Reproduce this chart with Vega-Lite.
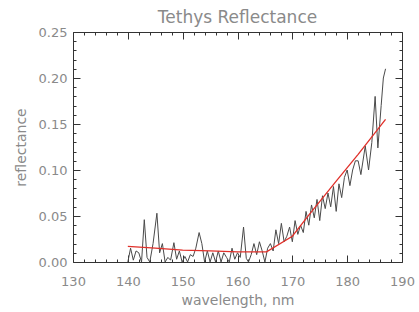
{
  "$schema": "https://vega.github.io/schema/vega-lite/v6.json",
  "width": 329,
  "height": 230,
  "autosize": {"type": "none"},
  "padding": {"left": 73, "top": 32, "right": 17, "bottom": 50},
  "background": "white",
  "title": {"text": "Tethys Reflectance", "fontSize": 17, "font": "DejaVu Sans", "fontWeight": "normal", "color": "#8a8a8a", "offset": -1},
  "config": {
    "view": {"stroke": "#333333", "strokeWidth": 1},
    "axis": {"domain": false, "tickColor": "#333333", "labelColor": "#8a8a8a", "titleColor": "#8a8a8a", "labelFont": "DejaVu Sans", "titleFont": "DejaVu Sans", "labelFontSize": 13, "titleFontSize": 14, "titleFontWeight": "normal", "grid": false, "offset": -7, "tickSize": 7}
  },
  "datasets": {
    "obs": [
      {"wl": 140.0, "r": 0.000}, {"wl": 140.5, "r": 0.015}, {"wl": 141.0, "r": 0.002}, {"wl": 141.5, "r": 0.012},
      {"wl": 142.0, "r": 0.010}, {"wl": 142.5, "r": 0.000}, {"wl": 143.0, "r": 0.046}, {"wl": 143.5, "r": 0.005},
      {"wl": 144.0, "r": 0.000}, {"wl": 144.6, "r": 0.020}, {"wl": 145.3, "r": 0.053}, {"wl": 145.8, "r": 0.010},
      {"wl": 146.3, "r": 0.020}, {"wl": 146.8, "r": 0.000}, {"wl": 147.3, "r": 0.005}, {"wl": 147.8, "r": 0.002},
      {"wl": 148.4, "r": 0.021}, {"wl": 148.9, "r": 0.003}, {"wl": 149.4, "r": 0.012}, {"wl": 149.9, "r": 0.000},
      {"wl": 150.4, "r": 0.006}, {"wl": 150.9, "r": 0.000}, {"wl": 151.4, "r": 0.008}, {"wl": 151.9, "r": 0.006},
      {"wl": 152.4, "r": 0.015}, {"wl": 153.0, "r": 0.032}, {"wl": 153.5, "r": 0.020}, {"wl": 154.0, "r": 0.000},
      {"wl": 154.5, "r": 0.012}, {"wl": 155.0, "r": 0.000}, {"wl": 155.5, "r": 0.010}, {"wl": 156.0, "r": 0.000},
      {"wl": 156.5, "r": 0.012}, {"wl": 157.0, "r": 0.000}, {"wl": 157.5, "r": 0.010}, {"wl": 158.0, "r": 0.005},
      {"wl": 158.5, "r": 0.000}, {"wl": 159.0, "r": 0.015}, {"wl": 159.5, "r": 0.003}, {"wl": 160.0, "r": 0.010},
      {"wl": 160.5, "r": 0.005}, {"wl": 161.1, "r": 0.038}, {"wl": 161.6, "r": 0.004}, {"wl": 162.0, "r": 0.000},
      {"wl": 162.5, "r": 0.008}, {"wl": 163.0, "r": 0.020}, {"wl": 163.5, "r": 0.008}, {"wl": 164.0, "r": 0.022},
      {"wl": 164.5, "r": 0.012}, {"wl": 165.0, "r": 0.000}, {"wl": 165.5, "r": 0.015}, {"wl": 166.0, "r": 0.020},
      {"wl": 166.5, "r": 0.012}, {"wl": 167.0, "r": 0.035}, {"wl": 167.5, "r": 0.020}, {"wl": 168.0, "r": 0.042},
      {"wl": 168.5, "r": 0.022}, {"wl": 169.0, "r": 0.028}, {"wl": 169.5, "r": 0.038}, {"wl": 170.0, "r": 0.022},
      {"wl": 170.5, "r": 0.045}, {"wl": 171.0, "r": 0.030}, {"wl": 171.5, "r": 0.040}, {"wl": 172.0, "r": 0.032},
      {"wl": 172.5, "r": 0.055}, {"wl": 173.0, "r": 0.040}, {"wl": 173.5, "r": 0.062}, {"wl": 174.0, "r": 0.048},
      {"wl": 174.5, "r": 0.068}, {"wl": 175.0, "r": 0.045}, {"wl": 175.5, "r": 0.072}, {"wl": 176.0, "r": 0.058},
      {"wl": 176.5, "r": 0.075}, {"wl": 177.0, "r": 0.060}, {"wl": 177.5, "r": 0.082}, {"wl": 178.0, "r": 0.055},
      {"wl": 178.5, "r": 0.085}, {"wl": 179.0, "r": 0.070}, {"wl": 179.5, "r": 0.092}, {"wl": 180.0, "r": 0.100},
      {"wl": 180.5, "r": 0.083}, {"wl": 181.0, "r": 0.100}, {"wl": 181.5, "r": 0.110}, {"wl": 182.0, "r": 0.110},
      {"wl": 182.5, "r": 0.095}, {"wl": 183.3, "r": 0.126}, {"wl": 183.9, "r": 0.100}, {"wl": 184.5, "r": 0.130},
      {"wl": 185.1, "r": 0.180}, {"wl": 185.6, "r": 0.124}, {"wl": 186.2, "r": 0.170}, {"wl": 186.6, "r": 0.200},
      {"wl": 187.0, "r": 0.210}
    ],
    "fit": [
      {"wl": 140.0, "r": 0.017}, {"wl": 145.0, "r": 0.015}, {"wl": 150.0, "r": 0.013}, {"wl": 155.0, "r": 0.012},
      {"wl": 160.0, "r": 0.011}, {"wl": 165.3, "r": 0.011}, {"wl": 170.0, "r": 0.028}, {"wl": 173.0, "r": 0.051},
      {"wl": 178.0, "r": 0.088}, {"wl": 182.0, "r": 0.117}, {"wl": 187.0, "r": 0.155}
    ]
  },
  "layer": [
    {
      "data": {"name": "obs"},
      "mark": {"type": "line", "color": "#4a4a4a", "strokeWidth": 1, "clip": true},
      "encoding": {
        "x": {"field": "wl", "type": "quantitative", "scale": {"domain": [130, 190], "nice": false},
          "axis": {"orient": "bottom", "title": "wavelength, nm", "titlePadding": 5,
            "values": [130,132,134,136,138,140,142,144,146,148,150,152,154,156,158,160,162,164,166,168,170,172,174,176,178,180,182,184,186,188,190],
            "labelExpr": "round(datum.value) % 10 === 0 ? datum.label : ''",
            "tickDash": {"condition": {"test": "round(datum.value) % 10 === 0", "value": [7, 0]}, "value": [0, 4, 3, 20]},
            "labelPadding": 13, "labelFlush": false, "labelOverlap": false}},
        "y": {"field": "r", "type": "quantitative", "scale": {"domain": [0, 0.25], "nice": false},
          "axis": {"orient": "left", "title": "reflectance", "titlePadding": 10,
            "values": [0,0.01,0.02,0.03,0.04,0.05,0.06,0.07,0.08,0.09,0.1,0.11,0.12,0.13,0.14,0.15,0.16,0.17,0.18,0.19,0.2,0.21,0.22,0.23,0.24,0.25],
            "labelExpr": "round(datum.value*100) % 5 === 0 ? format(datum.value, '.2f') : ''",
            "tickDash": {"condition": {"test": "round(datum.value*100) % 5 === 0", "value": [7, 0]}, "value": [0, 4, 3, 20]},
            "labelPadding": 6, "labelOverlap": false}}
      }
    },
    {
      "data": {"name": "fit"},
      "mark": {"type": "line", "color": "#e0302a", "strokeWidth": 1.3},
      "encoding": {
        "x": {"field": "wl", "type": "quantitative",
          "axis": {"orient": "top", "title": null, "labels": false,
            "values": [130,132,134,136,138,140,142,144,146,148,150,152,154,156,158,160,162,164,166,168,170,172,174,176,178,180,182,184,186,188,190],
            "tickDash": {"condition": {"test": "round(datum.value) % 10 === 0", "value": [7, 0]}, "value": [0, 4, 3, 20]}}},
        "y": {"field": "r", "type": "quantitative",
          "axis": {"orient": "right", "title": null, "labels": false,
            "values": [0,0.01,0.02,0.03,0.04,0.05,0.06,0.07,0.08,0.09,0.1,0.11,0.12,0.13,0.14,0.15,0.16,0.17,0.18,0.19,0.2,0.21,0.22,0.23,0.24,0.25],
            "tickDash": {"condition": {"test": "round(datum.value*100) % 5 === 0", "value": [7, 0]}, "value": [0, 4, 3, 20]}}}
      }
    }
  ],
  "resolve": {"axis": {"x": "independent", "y": "independent"}}
}
